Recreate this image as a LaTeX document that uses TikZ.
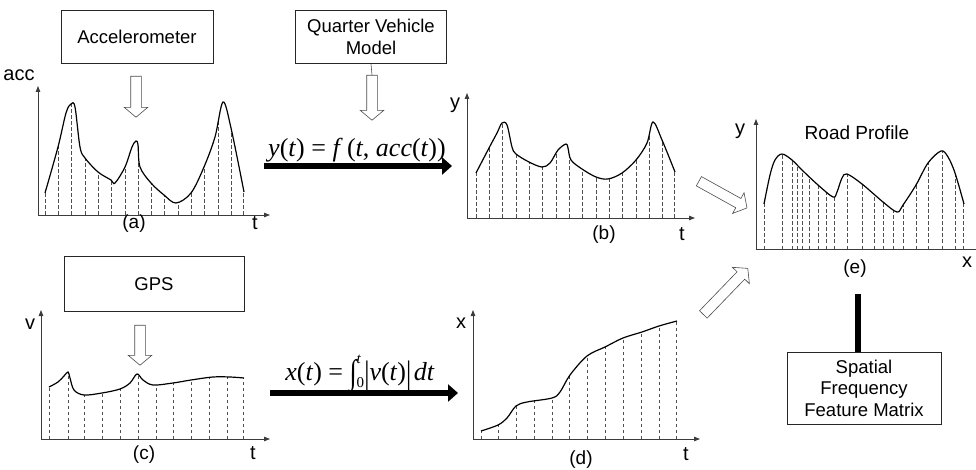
\documentclass[tikz,border=0pt]{standalone}
\usepackage{fontspec}
\setmainfont{Liberation Sans}
\newfontfamily\timesfont{Liberation Serif}
\usetikzlibrary{arrows.meta,shapes.arrows}
\definecolor{axisgray}{RGB}{60,60,60}
\definecolor{dashgray}{RGB}{80,80,80}
\newcommand{\mi}[1]{\textit{#1}}
\newcommand{\smallidx}{\fontsize{15}{15}\selectfont}
\newcommand{\tallbar}{\raisebox{-0.12em}{\scalebox{1}[1.25]{|}}}
% sampled curves of the five plots
\def\curveA{plot[smooth,tension=0.55] coordinates {(45,193) (58,147) (66,113) (71,104) (75,107) (80,147) (85,158) (98,172) (111,180) (115,183) (125,167) (132,147) (136,141) (138,145) (140,167) (151,183) (164,195) (176,203) (191,193) (204,167) (215,137) (223,102) (231,128) (244,192)}}
\def\curveB{plot[smooth,tension=0.55] coordinates {(476,173) (489,148) (497,133) (502,123) (507,125) (512,147) (516,154) (529,162) (542,167) (550,163) (558,150) (566,144) (568,148) (571,160) (582,169) (596,177) (608,179) (622,173) (636,160) (647,143) (653,122) (662,140) (675,172)}}
\def\curveC{plot[smooth,tension=0.55] coordinates {(49,387) (58,382) (64,376) (68,372) (70,378) (74,390) (84,395) (102,393) (120,389) (130,383) (137,374) (143,380) (153,385) (173,383) (191,380) (213,377) (230,377) (244,378)}}
\def\curveD{plot[smooth,tension=0.55] coordinates {(481,431) (498,425) (507,418) (516,406) (527,402) (552,398) (560,392) (570,375) (587,356) (605,347) (623,338) (642,332) (659,326) (677,321)}}
\def\curveE{plot[smooth,tension=0.55] coordinates {(764,204) (770,175) (775,160) (782,154) (792,160) (802,170) (818,185) (833,197) (837,192) (842,178) (847,174) (862,184) (883,202) (897,212) (903,205) (916,185) (928,163) (941,151) (948,157) (955,173) (964,204)}}
\tikzset{
  box/.style={draw=black!85,line width=0.8pt,font=\fontsize{18.5}{21.5}\selectfont,align=center,inner sep=2pt},
  axis/.style={draw=axisgray,line width=0.8pt,-{Triangle[length=6pt,width=4.5pt]}},
  curve/.style={black,line width=1.2pt},
  dashline/.style={dashgray,line width=0.6pt,dash pattern=on 3.5pt off 2.5pt},
  hollow/.style={single arrow,draw=black!70,fill=white,line width=0.6pt,inner xsep=0pt,inner ysep=5pt,
    single arrow head extend=6.5pt,single arrow tip angle=100},
  bigarrow/.style={line width=6.5pt,-{Triangle[length=10pt,width=17pt]}},
  axlabel/.style={font=\fontsize{20}{22}\selectfont},
  caption/.style={font=\fontsize{19}{21}\selectfont},
  formula/.style={font=\timesfont\fontsize{26}{30}\selectfont,anchor=base}
}
\begin{document}
\begin{tikzpicture}[x=1pt,y=-1pt]
\useasboundingbox (0,0) rectangle (976,470);

% sensor and model boxes
\node[box,minimum width=152,minimum height=53] (accel) at (137,37) {Accelerometer};
\node[box,minimum width=151,minimum height=53] (qvm) at (371,37) {Quarter Vehicle\\Model};
\node[box,minimum width=180,minimum height=55] (gps) at (154,284) {GPS};
\node[box,minimum width=154,minimum height=72] (sfm) at (864,388) {Spatial\\Frequency\\Feature Matrix};

% hollow arrows
\node[hollow,rotate=-90,minimum height=41] (accel-arr) at (136,94.5) {};
\node[hollow,rotate=-90,minimum height=45] (qvm-arr) at (372,95.5) {};
\draw[black!70,line width=0.6pt] (qvm.south) -- (qvm-arr.tail);
\node[hollow,rotate=-90,minimum height=40] (gps-arr) at (140,343) {};
\node[hollow,rotate=-29,minimum height=55] (b2e) at (721,193.5) {};
\node[hollow,rotate=46,minimum height=64] (d2e) at (724,293) {};

% (a) acceleration
\draw[axis] (38,215) -- (38,86);
\draw[axis] (38,215) -- (270,215);
\begin{scope}
  \clip \curveA -- (244,215) -- (45,215) -- cycle;
  \foreach \x in {45.6,58,71,85,98,111,125,138,151,164,178,191,204,218,231,243.4}
    \draw[dashline] (\x,215) -- (\x,90);
\end{scope}
\draw[curve] \curveA;
\node[axlabel] (acc-lab) at (19,75) {acc};
\node[axlabel] (ta-lab) at (255,223) {t};
\node[caption] (a-cap) at (134,224) {(a)};

% (b) vertical displacement
\draw[axis] (467,218) -- (467,93);
\draw[axis] (467,218) -- (695,218);
\begin{scope}
  \clip \curveB -- (675,218) -- (476,218) -- cycle;
  \foreach \x in {476.6,489,502,516,529,542,556,569,582,596,609,622,636,649,662,674.4}
    \draw[dashline] (\x,218) -- (\x,100);
\end{scope}
\draw[curve] \curveB;
\node[axlabel] (yb-lab) at (455,105) {y};
\node[axlabel] (tb-lab) at (682,234) {t};
\node[caption] (b-cap) at (604,235) {(b)};

% (c) velocity
\draw[axis] (41,439) -- (41,310);
\draw[axis] (41,439) -- (270,439);
\begin{scope}
  \clip \curveC -- (244,439) -- (49,439) -- cycle;
  \foreach \x in {49.6,68,84,102,120,138,156,173,191,209,227,243.4}
    \draw[dashline] (\x,439) -- (\x,350);
\end{scope}
\draw[curve] \curveC;
\node[axlabel] (v-lab) at (30,324) {v};
\node[axlabel] (tc-lab) at (253,453) {t};
\node[caption] (c-cap) at (144,455) {(c)};

% (d) distance
\draw[axis] (473,439) -- (473,310);
\draw[axis] (473,439) -- (700,439);
\begin{scope}
  \clip \curveD -- (677,439) -- (481,439) -- cycle;
  \foreach \x in {481.6,498,516,534,552,569,587,605,623,641,659,676.4}
    \draw[dashline] (\x,439) -- (\x,300);
\end{scope}
\draw[curve] \curveD;
\node[axlabel] (xd-lab) at (461,323) {x};
\node[axlabel] (td-lab) at (686,454) {t};
\node[caption] (d-cap) at (581,460) {(d)};

% (e) road profile
\draw[axis] (756,249) -- (756,119);
\draw[draw=axisgray,line width=0.8pt] (756,249) -- (976,249);
\begin{scope}
  \clip \curveE -- (964,249) -- (764,249) -- cycle;
  \foreach \x in {764.6,782,792,797,802,809,818,826,834,847,862,874,883,893,903,916,928,942,955,963.4}
    \draw[dashline] (\x,249) -- (\x,130);
\end{scope}
\draw[curve] \curveE;
\node[axlabel] (ye-lab) at (740,131) {y};
\node[caption] (road-lab) at (857,133) {Road Profile};
\node[axlabel] (xe-lab) at (967,262) {x};
\node[caption] (e-cap) at (855,269) {(e)};

% transformations
\coordinate (a-out) at (264,166);
\coordinate (b-in) at (452,166);
\draw[bigarrow] (a-out) -- (b-in);
\node[formula] (f-top) at (357,157) {\mi{y}(\mi{t}) = \mi{f}\,(\mi{t}, \mi{acc}(\mi{t}))};
\coordinate (c-out) at (270,393);
\coordinate (d-in) at (458,393);
\draw[bigarrow] (c-out) -- (d-in);
\node[formula] (f-bot) at (360,380) {\mi{x}(\mi{t}) = \raisebox{-0.14em}{\scalebox{1}[1.3]{∫}}\rlap{\raisebox{-0.3em}{\smallidx 0}}\raisebox{0.62em}{\smallidx\mi{t}}\hspace{0.12em}\tallbar\mi{v}(\mi{t})\tallbar\hspace{0.1em}\mi{dt}};

% feature extraction
\coordinate (e-foot) at (858,294);
\draw[line width=6pt] (e-foot) -- (e-foot |- sfm.north);
\end{tikzpicture}
\end{document}
